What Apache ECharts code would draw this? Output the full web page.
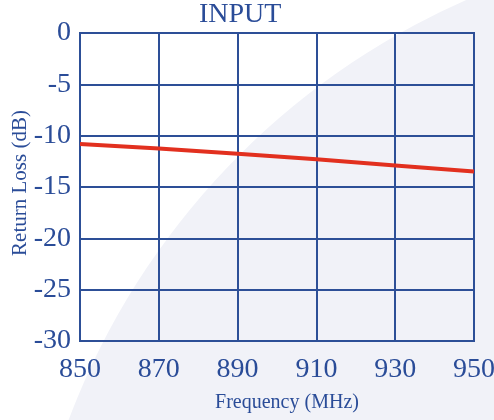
<!DOCTYPE html>
<html>
<head>
<meta charset="utf-8">
<script src="https://cdn.jsdelivr.net/npm/echarts@6/dist/echarts.min.js"></script>
<style>html,body{margin:0;padding:0;background:#fff;}#c{width:494px;height:420px;}</style>
</head>
<body>
<div id="c"></div>
<script>
const frequencies = [850, 870, 890, 910, 930, 950];
const returnLoss = [-10.8, -11.25, -11.75, -12.3, -12.9, -13.5];
const titleText = 'INPUT';
const xName = 'Frequency (MHz)';
const yName = 'Return Loss (dB)';

const blue = '#2d4f97';
const textBlue = '#2a4c98';
const font = '"Liberation Serif", "DejaVu Serif", serif';

const chart = echarts.init(document.getElementById('c'), null, {renderer: 'canvas'});
chart.setOption({
  animation: false,
  backgroundColor: '#ffffff',
  graphic: [{
    type: 'circle', silent: true, z: -10,
    shape: {cx: 766, cy: 682, r: 745},
    style: {fill: '#f1f2f8'}
  }, {
    type: 'text', silent: true, z: 5,
    x: 20, y: 183, rotation: Math.PI / 2,
    style: {text: yName, fill: textBlue, font: '21px ' + font, align: 'center', verticalAlign: 'middle'}
  }],
  title: {
    text: titleText, left: 199, top: 1, padding: 0,
    textStyle: {color: textBlue, fontFamily: font, fontWeight: 'normal', fontSize: 28}
  },
  grid: {left: 80, right: 20, top: 33, bottom: 79, containLabel: false, outerBoundsMode: 'none',
    show: true, borderColor: blue, borderWidth: 2, backgroundColor: 'transparent'},
  xAxis: {
    type: 'value', min: 850, max: 950, interval: 20,
    name: xName, nameLocation: 'middle', nameGap: 52,
    nameTextStyle: {color: textBlue, fontFamily: font, fontSize: 20, padding: [0, 0, 0, 20]},
    axisLine: {show: true, lineStyle: {color: blue, width: 2}},
    axisTick: {show: false},
    splitLine: {show: true, lineStyle: {color: blue, width: 2}},
    axisLabel: {color: textBlue, fontFamily: font, fontSize: 28, margin: 15}
  },
  yAxis: {
    type: 'value', min: -30, max: 0, interval: 5,
    axisLine: {show: true, lineStyle: {color: blue, width: 2}},
    axisTick: {show: false},
    splitLine: {show: true, lineStyle: {color: blue, width: 2}},
    axisLabel: {color: textBlue, fontFamily: font, fontSize: 28, margin: 9}
  },
  series: [{
    type: 'line',
    data: frequencies.map((f, i) => [f, returnLoss[i]]),
    showSymbol: false,
    lineStyle: {color: '#e2301f', width: 4},
    z: 3
  }]
});
</script>
</body>
</html>
